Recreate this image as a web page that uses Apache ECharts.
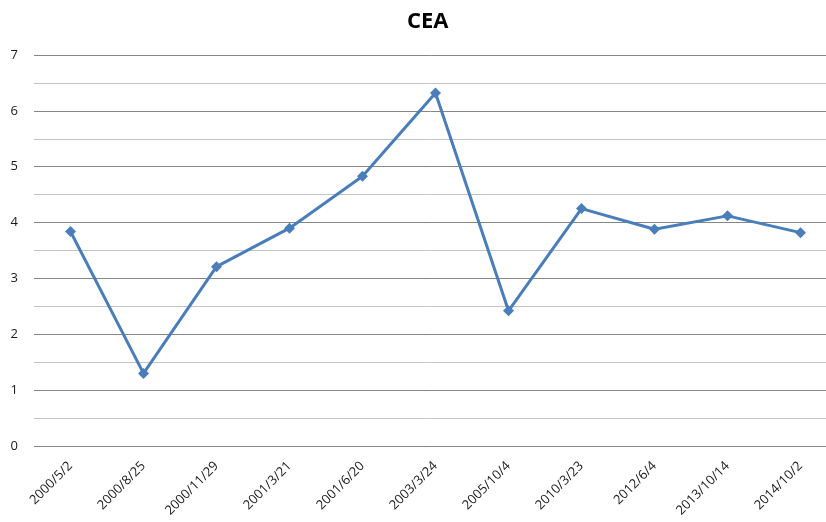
<!DOCTYPE html>
<html>
<head>
<meta charset="utf-8">
<title>CEA</title>
<script src="https://cdn.jsdelivr.net/npm/echarts@6/dist/echarts.min.js"></script>
<style>
  html, body { margin: 0; padding: 0; background: #fff; }
  #chart { width: 826px; height: 522px; }
</style>
</head>
<body>
<div id="chart"></div>
<script>
// 数据
var dates = ['2000/5/2', '2000/8/25', '2000/11/29', '2001/3/21', '2001/6/20', '2003/3/24',
             '2005/10/4', '2010/3/23', '2012/6/4', '2013/10/14', '2014/10/2'];
var cea = [3.84, 1.30, 3.21, 3.90, 4.83, 6.32, 2.42, 4.25, 3.88, 4.12, 3.82];
var yTicks = [0, 1, 2, 3, 4, 5, 6, 7];

var myChart = echarts.init(document.getElementById('chart'));

var option = {
  animation: false,
  title: {
    text: 'CEA',
    left: 402,
    top: 6,
    textStyle: {
      fontFamily: 'Open Sans',
      fontWeight: 'bold',
      fontSize: 22,
      color: '#000'
    }
  },
  grid: {
    left: 34,
    top: 55,
    right: -11,
    bottom: 76,
    outerBoundsMode: 'none'
  },
  xAxis: {
    type: 'category',
    data: dates,
    boundaryGap: true,
    axisLine: { show: false },
    axisTick: { show: false },
    axisLabel: {
      rotate: 45,
      interval: 0,
      margin: 18,
      fontFamily: 'Open Sans',
      fontSize: 13,
      color: '#1a1a1a'
    },
    splitLine: { show: false }
  },
  yAxis: {
    type: 'value',
    min: yTicks[0],
    max: yTicks[yTicks.length - 1],
    interval: 1,
    axisLine: { show: false },
    axisTick: { show: false },
    axisLabel: {
      margin: 16,
      fontFamily: 'Open Sans',
      fontSize: 13,
      color: '#1a1a1a'
    },
    splitLine: { lineStyle: { color: '#868686', width: 1 } },
    minorTick: { show: false, splitNumber: 2 },
    minorSplitLine: { show: true, lineStyle: { color: '#c4c4c4', width: 1 } }
  },
  series: [{
    name: 'CEA',
    type: 'line',
    data: cea,
    symbol: 'diamond',
    symbolSize: 11,
    lineStyle: { color: '#4a7ebb', width: 3 },
    itemStyle: { color: '#4a7ebb' }
  }]
};

myChart.setOption(option);
</script>
</body>
</html>
